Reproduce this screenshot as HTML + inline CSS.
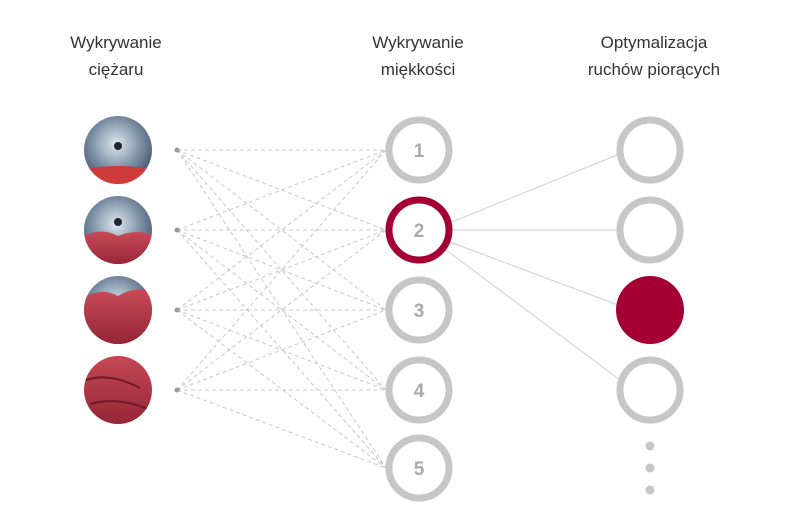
<!DOCTYPE html>
<html><head><meta charset="utf-8"><style>
body{margin:0;background:#fff;width:800px;height:526px;overflow:hidden;font-family:"Liberation Sans",sans-serif}
</style></head><body>
<svg width="800" height="526" viewBox="0 0 800 526" xmlns="http://www.w3.org/2000/svg">
<defs>
<radialGradient id="steel" cx="0.45" cy="0.4" r="0.6">
<stop offset="0" stop-color="#dfe8f0"/><stop offset="0.5" stop-color="#7f93a8"/><stop offset="1" stop-color="#2c3e55"/>
</radialGradient>
<linearGradient id="red" x1="0" y1="0" x2="0" y2="1">
<stop offset="0" stop-color="#c84a58"/><stop offset="1" stop-color="#8e2232"/>
</linearGradient>
<clipPath id="c1"><circle cx="118" cy="150" r="34"/></clipPath>
<clipPath id="c2"><circle cx="118" cy="230" r="34"/></clipPath>
<clipPath id="c3"><circle cx="118" cy="310" r="34"/></clipPath>
<clipPath id="c4"><circle cx="118" cy="390" r="34"/></clipPath>
</defs>
<g font-size="17" fill="#333" text-anchor="middle">
<text x="116" y="48">Wykrywanie</text><text x="116" y="75">ciężaru</text>
<text x="418" y="48">Wykrywanie</text><text x="418" y="75">miękkości</text>
<text x="654" y="48">Optymalizacja</text><text x="654" y="75">ruchów piorących</text>
</g>
<g stroke="#c8c8c8" stroke-width="1" stroke-dasharray="4,3">
<line x1="177" y1="150" x2="386" y2="150"/><line x1="177" y1="150" x2="386" y2="230"/><line x1="177" y1="150" x2="386" y2="310"/><line x1="177" y1="150" x2="386" y2="390"/><line x1="177" y1="150" x2="386" y2="468"/>
<line x1="177" y1="230" x2="386" y2="150"/><line x1="177" y1="230" x2="386" y2="230"/><line x1="177" y1="230" x2="386" y2="310"/><line x1="177" y1="230" x2="386" y2="390"/><line x1="177" y1="230" x2="386" y2="468"/>
<line x1="177" y1="310" x2="386" y2="150"/><line x1="177" y1="310" x2="386" y2="230"/><line x1="177" y1="310" x2="386" y2="310"/><line x1="177" y1="310" x2="386" y2="390"/><line x1="177" y1="310" x2="386" y2="468"/>
<line x1="177" y1="390" x2="386" y2="150"/><line x1="177" y1="390" x2="386" y2="230"/><line x1="177" y1="390" x2="386" y2="310"/><line x1="177" y1="390" x2="386" y2="390"/><line x1="177" y1="390" x2="386" y2="468"/>
</g>
<g stroke="#cfcfcf" stroke-width="1">
<line x1="452" y1="222" x2="617" y2="155"/><line x1="452" y1="230" x2="617" y2="230"/><line x1="450" y1="242" x2="618" y2="305"/><line x1="446" y1="250" x2="620" y2="380"/>
</g>
<g fill="#999"><circle cx="177" cy="150" r="2.5"/><circle cx="177" cy="230" r="2.5"/><circle cx="177" cy="310" r="2.5"/><circle cx="177" cy="390" r="2.5"/></g>
<g clip-path="url(#c1)"><rect x="80" y="112" width="80" height="80" fill="url(#steel)"/><circle cx="118" cy="146" r="4" fill="#223"/><path d="M80 170 Q118 162 156 170 L156 190 L80 190Z" fill="#cf3a3a"/></g>
<g clip-path="url(#c2)"><rect x="80" y="192" width="80" height="80" fill="url(#steel)"/><circle cx="118" cy="222" r="4" fill="#223"/><path d="M80 238 Q100 226 118 236 Q138 228 156 236 L156 270 L80 270Z" fill="url(#red)"/></g>
<g clip-path="url(#c3)"><rect x="80" y="272" width="80" height="80" fill="url(#steel)"/><path d="M80 300 Q100 286 118 296 Q138 284 156 294 L156 350 L80 350Z" fill="url(#red)"/></g>
<g clip-path="url(#c4)"><rect x="80" y="352" width="80" height="80" fill="url(#red)"/><path d="M86 380 Q110 372 140 388 M90 404 Q118 396 150 410" stroke="#6e1a26" stroke-width="2" fill="none"/></g>
<g fill="#fff" stroke="#c6c6c6" stroke-width="7">
<circle cx="419" cy="150" r="30"/><circle cx="419" cy="310" r="30"/><circle cx="419" cy="390" r="30"/><circle cx="419" cy="468" r="30"/>
<circle cx="650" cy="150" r="30"/><circle cx="650" cy="230" r="30"/><circle cx="650" cy="390" r="30"/>
</g>
<circle cx="419" cy="230" r="30" fill="#fff" stroke="#a50034" stroke-width="7"/>
<circle cx="650" cy="310" r="34" fill="#a50034"/>
<g font-size="19" font-weight="bold" fill="#aaa" text-anchor="middle">
<text x="419" y="157">1</text><text x="419" y="237">2</text><text x="419" y="317">3</text><text x="419" y="397">4</text><text x="419" y="475">5</text>
</g>
<g fill="#c6c6c6"><circle cx="650" cy="446" r="4.5"/><circle cx="650" cy="468" r="4.5"/><circle cx="650" cy="490" r="4.5"/></g>
</svg>
</body></html>
